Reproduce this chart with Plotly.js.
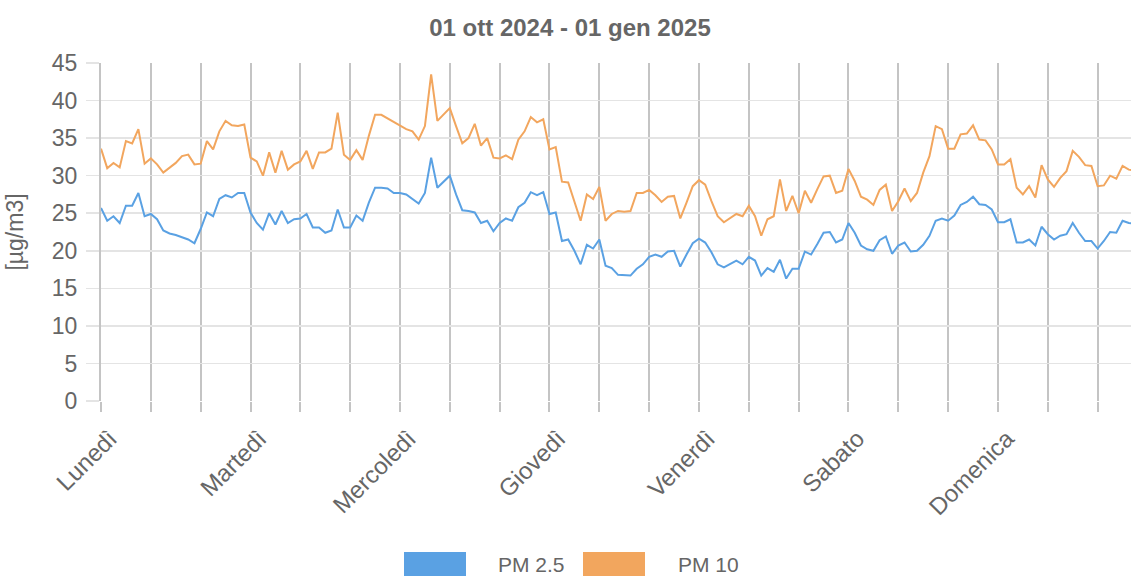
<!DOCTYPE html>
<html>
<head>
<meta charset="utf-8">
<script src="https://cdn.plot.ly/plotly-3.0.1.min.js"></script>
<style>
  html, body { margin: 0; padding: 0; background: #ffffff; }
  #chart { width: 1131px; height: 576px; }
</style>
</head>
<body>
<div id="chart"></div>
<script>
// ---- data (hourly profile per weekday, 24 values per day) ----
const chartTitle = '01 ott 2024 - 01 gen 2025';
const yAxisTitle = '[µg/m3]';
const days = ['Lunedì', 'Martedì', 'Mercoledì', 'Giovedì', 'Venerdì', 'Sabato', 'Domenica'];
const hoursPerDay = 24;
const gridEveryHours = 8;
const seriesNames = ['PM 2.5', 'PM 10'];
const seriesColors = ['#5aa1e3', '#f2a65e'];

const pm25 = [
  25.7, 24.0, 24.6, 23.7, 26.0, 26.0, 27.7, 24.6, 24.9, 24.2, 22.7, 22.3, 22.1, 21.8, 21.5, 21.0, 22.9, 25.1, 24.6, 26.9, 27.4, 27.1, 27.7, 27.7,
  25.1, 23.7, 22.8, 25.0, 23.5, 25.3, 23.7, 24.2, 24.3, 24.9, 23.1, 23.1, 22.4, 22.7, 25.5, 23.1, 23.1, 24.7, 24.0, 26.4, 28.4, 28.4, 28.3, 27.7,
  27.7, 27.5, 26.9, 26.3, 27.7, 32.4, 28.4, 29.2, 30.0, 27.5, 25.4, 25.3, 25.1, 23.7, 24.0, 22.6, 23.7, 24.3, 24.0, 25.8, 26.4, 27.8, 27.4, 27.8,
  24.9, 25.1, 21.3, 21.5, 20.0, 18.2, 20.8, 20.3, 21.5, 18.0, 17.7, 16.8, 16.7, 16.7, 17.6, 18.2, 19.2, 19.5, 19.2, 19.9, 20.0, 17.9, 19.5, 21.0,
  21.6, 21.1, 19.8, 18.2, 17.8, 18.2, 18.7, 18.2, 19.2, 18.7, 16.7, 17.7, 17.2, 18.8, 16.3, 17.6, 17.6, 19.9, 19.5, 20.9, 22.4, 22.5, 21.1, 21.5,
  23.7, 22.4, 20.7, 20.2, 20.0, 21.4, 21.9, 19.6, 20.7, 21.1, 19.9, 20.0, 20.8, 22.0, 24.0, 24.3, 24.0, 24.7, 26.1, 26.5, 27.2, 26.2, 26.1, 25.5,
  23.8, 23.8, 24.2, 21.1, 21.1, 21.5, 20.7, 23.2, 22.2, 21.5, 22.0, 22.2, 23.7, 22.4, 21.3, 21.3, 20.3, 21.3, 22.5, 22.4, 24.0, 23.7, 23.6, 23.5
];

const pm10 = [
  33.6, 31.0, 31.7, 31.1, 34.6, 34.3, 36.2, 31.6, 32.3, 31.5, 30.4, 31.1, 31.7, 32.6, 32.8, 31.5, 31.6, 34.6, 33.5, 35.9, 37.3, 36.7, 36.6, 36.8,
  32.4, 31.9, 30.0, 33.1, 30.4, 33.3, 30.8, 31.5, 31.9, 33.3, 30.9, 33.1, 33.1, 33.6, 38.4, 32.8, 32.1, 33.4, 32.1, 35.3, 38.1, 38.1, 37.6, 37.1,
  36.6, 36.2, 35.9, 34.8, 36.6, 43.5, 37.3, 38.1, 39.0, 36.6, 34.3, 35.0, 36.9, 34.0, 35.0, 32.4, 32.3, 32.7, 32.2, 34.8, 35.9, 37.8, 37.1, 37.5,
  33.5, 33.8, 29.2, 29.1, 26.4, 24.0, 27.5, 26.9, 28.5, 24.0, 24.9, 25.3, 25.2, 25.3, 27.7, 27.7, 28.1, 27.4, 26.5, 27.2, 27.3, 24.3, 26.4, 28.6,
  29.4, 28.8, 26.6, 24.6, 23.8, 24.3, 24.9, 24.6, 26.0, 24.6, 22.0, 24.2, 24.6, 29.5, 25.3, 27.3, 25.0, 28.0, 26.4, 28.2, 29.9, 30.0, 27.7, 28.0,
  30.9, 29.3, 27.2, 26.8, 26.1, 28.1, 28.8, 25.3, 26.6, 28.3, 26.6, 27.7, 30.4, 32.6, 36.6, 36.2, 33.6, 33.6, 35.5, 35.6, 36.7, 34.8, 34.7, 33.5,
  31.5, 31.5, 32.2, 28.4, 27.5, 28.6, 27.1, 31.4, 29.5, 28.5, 29.7, 30.6, 33.3, 32.5, 31.4, 31.3, 28.6, 28.7, 30.0, 29.6, 31.3, 30.8, 30.6, 30.5
];

// ---- derived axis helpers ----
const hourIndex = pm25.map((_, i) => i);
const tickVals = [];
const tickText = [];
for (let h = 0; h <= days.length * hoursPerDay; h += gridEveryHours) {
  tickVals.push(h);
  tickText.push(h % hoursPerDay === 0 && h / hoursPerDay < days.length ? days[h / hoursPerDay] : '');
}

// ---- layout geometry ----
const W = 1131, H = 576;
const M = { l: 101, r: 0, t: 63, b: 175 };
const plotW = W - M.l - M.r, plotH = H - M.t - M.b;
const pxPerHour = 6.229;
const px = x => (x - M.l) / plotW;          // page px -> paper x
const py = y => (H - M.b - y) / plotH;      // page px -> paper y

const FONT = 'Liberation Sans, Arial, Helvetica, sans-serif';
const TXT = '#666666';
const VGRID = '#c4c4c4';
const HGRID = '#e4e4e4';

const traces = [pm25, pm10].map((vals, k) => ({
  type: 'scatter',
  mode: 'lines',
  name: seriesNames[k],
  x: hourIndex,
  y: vals,
  line: { color: seriesColors[k], width: 2 },
  showlegend: false,
  hoverinfo: 'x+y'
}));

// legend drawn as boxes + text
const legendBoxes = [[404, 466], [583, 645]];
const legendTextX = [496, 676];
const shapes = seriesNames.map((n, k) => ({
  type: 'rect', xref: 'paper', yref: 'paper',
  x0: px(legendBoxes[k][0]), x1: px(legendBoxes[k][1]),
  y0: py(552), y1: py(580),
  fillcolor: seriesColors[k], line: { width: 0 }, layer: 'above'
}));
const annotations = seriesNames.map((n, k) => ({
  xref: 'paper', yref: 'paper', x: px(legendTextX[k]), y: py(564),
  xanchor: 'left', yanchor: 'middle', showarrow: false, text: n,
  height: 22, valign: 'middle',
  font: { family: FONT, size: 21, color: TXT }
}));

const layout = {
  width: W, height: H,
  margin: M,
  paper_bgcolor: '#ffffff', plot_bgcolor: '#ffffff',
  font: { family: FONT, color: TXT },
  title: {
    text: chartTitle,
    font: { family: FONT, size: 24, color: TXT, weight: 700 },
    xref: 'container', x: 570 / W, xanchor: 'center',
    yref: 'container', y: 1 - 28 / H, yanchor: 'middle'
  },
  xaxis: {
    range: [0, plotW / pxPerHour],
    tickmode: 'array', tickvals: tickVals, ticktext: tickText,
    tickangle: -45,
    tickfont: { family: FONT, size: 24, color: TXT },
    ticklabelshift: 9, ticklabelstandoff: 3,
    showgrid: true, gridcolor: VGRID, gridwidth: 2,
    ticks: 'outside', ticklen: 10, tickcolor: VGRID, tickwidth: 2,
    zeroline: false, showline: false, fixedrange: true, automargin: false
  },
  yaxis: {
    range: [0, 45], tickmode: 'linear', tick0: 0, dtick: 5,
    tickfont: { family: FONT, size: 23, color: TXT },
    ticklabelstandoff: 4,
    showgrid: true, gridcolor: HGRID, gridwidth: 1.5,
    ticks: 'outside', ticklen: 13, tickcolor: HGRID, tickwidth: 1.5,
    zeroline: false, showline: true, linecolor: VGRID, linewidth: 2,
    fixedrange: true, automargin: false,
    title: { text: yAxisTitle, font: { family: FONT, size: 23, color: TXT }, standoff: 22 }
  },
  shapes: shapes,
  annotations: annotations,
  showlegend: false
};

Plotly.newPlot('chart', traces, layout, { displayModeBar: false, staticPlot: true });
</script>
</body>
</html>
